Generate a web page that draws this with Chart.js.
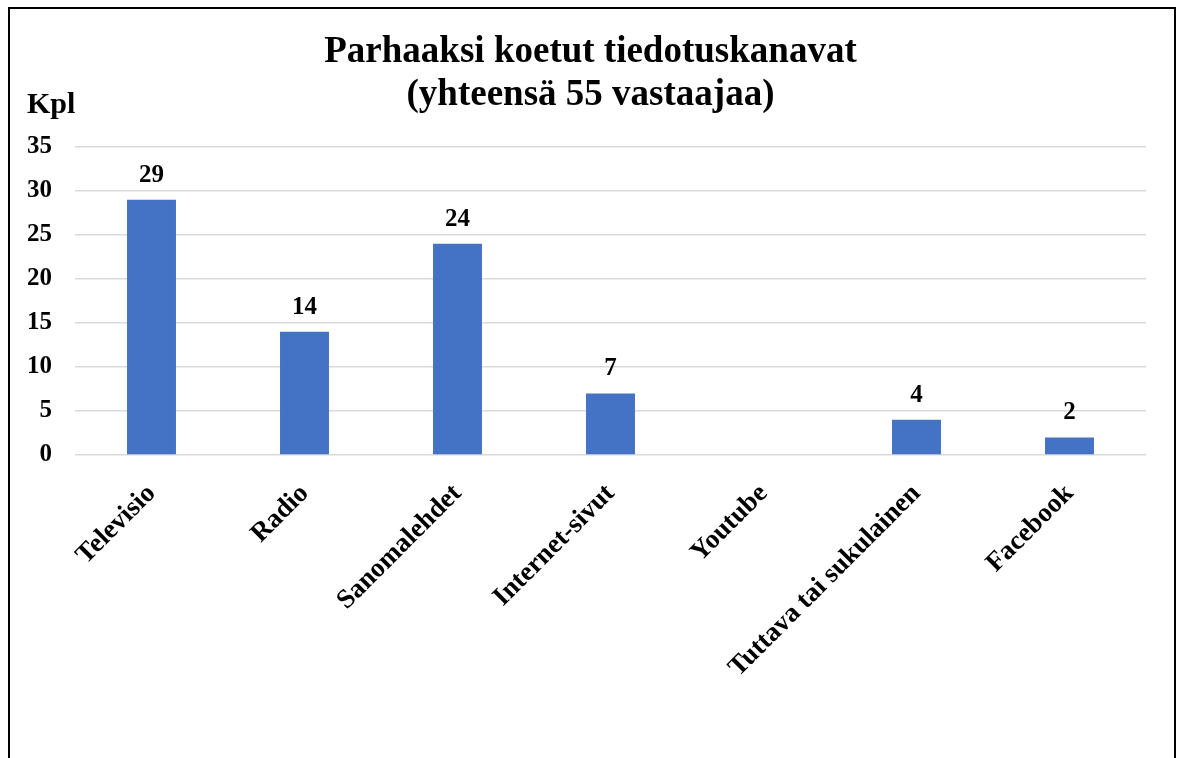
<!DOCTYPE html>
<html>
<head>
<meta charset="utf-8">
<script src="https://cdn.jsdelivr.net/npm/chart.js@4/dist/chart.umd.min.js"></script>
<style>
  html, body { margin: 0; padding: 0; background: #fff; overflow: hidden; }
  #wrap { position: relative; width: 1181px; height: 758px; }
  #frame { position: absolute; left: 8px; top: 7px; width: 1164px; height: 800px;
           border: 2px solid #000; border-bottom: none; pointer-events: none; }
</style>
</head>
<body>
<div id="wrap">
  <canvas id="c" width="1181" height="758"></canvas>
  <div id="frame"></div>
</div>
<script>
const categories = ["Televisio", "Radio", "Sanomalehdet", "Internet-sivut", "Youtube", "Tuttava tai sukulainen", "Facebook"];
const values = [29, 14, 24, 7, 0, 4, 2];
const titleLines = ["Parhaaksi koetut tiedotuskanavat", "(yhteensä 55 vastaajaa)"];
const yAxisTitle = "Kpl";
const yMax = 35;
const yStep = 5;

const FONT = "'Liberation Serif', 'Times New Roman', serif";

const extras = {
  id: 'extras',
  afterDatasetsDraw(chart) {
    const ctx = chart.ctx;
    const meta = chart.getDatasetMeta(0);
    ctx.save();
    ctx.fillStyle = '#000';
    // data labels
    ctx.font = "bold 25px " + FONT;
    ctx.textAlign = 'center';
    ctx.textBaseline = 'alphabetic';
    meta.data.forEach((bar, i) => {
      const v = values[i];
      if (!v) return;
      ctx.fillText(String(v), bar.x, bar.y - 18);
    });
    // title, centred on the whole canvas
    ctx.font = "bold 37px " + FONT;
    ctx.textAlign = 'center';
    ctx.fillText(titleLines[0], chart.width / 2, 62);
    ctx.fillText(titleLines[1], chart.width / 2, 105);
    // y-axis unit label
    ctx.font = "bold 30px " + FONT;
    ctx.textAlign = 'left';
    ctx.fillText(yAxisTitle, 27, 113);
    ctx.restore();
  }
};

new Chart(document.getElementById('c'), {
  type: 'bar',
  data: {
    labels: categories,
    datasets: [{
      data: values,
      backgroundColor: '#4472c4',
      borderWidth: 0,
      categoryPercentage: 1,
      barPercentage: 0.32
    }]
  },
  options: {
    responsive: false,
    animation: false,
    devicePixelRatio: 1,
    layout: { padding: { left: 0, right: 35, top: 147, bottom: 0 } },
    plugins: {
      legend: { display: false },
      tooltip: { enabled: false },
      title: { display: false }
    },
    scales: {
      y: {
        min: 0, max: yMax,
        ticks: { stepSize: yStep, color: '#000', padding: 23,
                 font: { family: FONT, size: 25, weight: 'bold' } },
        grid: { color: '#d9d9d9', lineWidth: 1.5, drawTicks: false },
        border: { display: false },
        afterFit(s) { s.width = 75; }
      },
      x: {
        ticks: { color: '#000', minRotation: 45, maxRotation: 45, autoSkip: false, padding: 23,
                 font: { family: FONT, size: 27, weight: 'bold' } },
        grid: { display: false, drawTicks: false },
        border: { display: false },
        afterFit(s) { s.height = 303; }
      }
    }
  },
  plugins: [extras]
});
</script>
</body>
</html>
